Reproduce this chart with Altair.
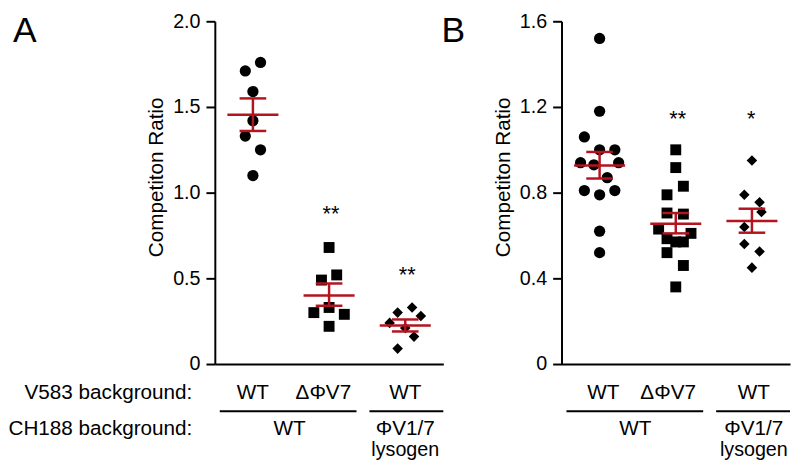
import altair as alt
import pandas as pd

# ---------------- data ----------------
group_pos = [1, 3, 5]          # WT, dPhiV7, PhiV1/7 lysogen

# Panel A
a_wt = [1.76, 1.71, 1.59, 1.42, 1.33, 1.25, 1.10]
a_wt_off = [0.2, -0.2, 0.0, 0.0, -0.2, 0.2, 0.0]
a_dphi = [0.68, 0.52, 0.49, 0.33, 0.30, 0.29, 0.22]
a_dphi_off = [0.0, 0.2, -0.2, 0.0, -0.4, 0.4, 0.0]
a_lys = [0.33, 0.30, 0.28, 0.24, 0.21, 0.16, 0.09]
a_lys_off = [0.18, -0.2, 0.41, -0.41, 0.0, 0.23, -0.2]
a_mean = [1.454, 0.40, 0.225]
a_sem_lo = [1.36, 0.34, 0.19]
a_sem_hi = [1.55, 0.47, 0.26]
a_stars = ["**", "**"]
a_star_pos = [3.05, 5.05]
a_star_y = [0.837, 0.477]
a_ticks = [0, 0.5, 1.0, 1.5, 2.0]

# Panel B
b_wt = [1.52, 1.18, 1.06, 1.00, 1.00, 0.94, 0.93, 0.94, 0.87, 0.81, 0.79, 0.81, 0.62, 0.52]
b_wt_off = [0.0, 0.0, -0.4, 0.0, 0.4, -0.5, -0.15, 0.5, 0.2, -0.4, 0.0, 0.4, 0.0, 0.0]
b_dphi = [1.00, 0.917, 0.83, 0.79, 0.705, 0.70, 0.63, 0.61, 0.585, 0.57, 0.57, 0.52, 0.46, 0.36]
b_dphi_off = [0.0, 0.0, 0.2, -0.23, -0.23, 0.2, -0.45, 0.4, -0.23, 0.0, 0.2, -0.23, 0.2, 0.0]
b_lys = [0.95, 0.79, 0.755, 0.71, 0.64, 0.56, 0.525, 0.45]
b_lys_off = [0.0, -0.2, 0.2, 0.25, -0.2, -0.2, 0.2, 0.0]
b_mean = [0.927, 0.655, 0.668]
b_sem_lo = [0.866, 0.61, 0.613]
b_sem_hi = [0.99, 0.705, 0.725]
b_stars = ["**", "*"]
b_star_pos = [3.05, 4.98]
b_star_y = [1.109, 1.109]
b_ticks = [0, 0.4, 0.8, 1.2, 1.6]

# category labels under the axes
row1_labels = ["WT", "\u0394\u03a6V7", "WT"]
row2_labels = ["WT", "\u03a6V1/7"]
row3_labels = ["", "lysogen"]
a_row1_pos = [1.0, 2.85, 5.0]
b_row1_pos = [1.1, 2.8, 5.05]
a_row2_pos = [1.96, 5.0]
b_row2_pos = [1.94, 5.05]
bracket_start = [0.13, 4.06]
bracket_end = [3.72, 6.0]
left_labels = ["V583 background:", "CH188 background:"]

# ---------------- styling ----------------
FONT = "Liberation Sans"
RED = "#B3141F"
MEAN_HALF = 0.67
CAP_HALF = 0.35
W, H = 232, 348
LABEL_SIZE = 21


def panel(letter, letter_x, vals, offs, means, lo, hi, stars, star_pos, star_y,
          ymax, ticks, row1_pos, row2_pos, show_left):
    xs = alt.Scale(domain=[0, 6], nice=False, zero=False)
    ys = alt.Scale(domain=[0, ymax], nice=False, zero=True)
    xaxis = alt.Axis(labels=False, ticks=False, grid=False)
    yaxis = alt.Axis(values=ticks, grid=False, title="Competiton Ratio",
                     labelExpr="datum.value == 0 ? '0' : format(datum.value, '.1f')",
                     tickSize=9, labelPadding=6, titlePadding=6, titleY=158)

    def X(f):
        return alt.X(f + ":Q", scale=xs, axis=xaxis, title=None)

    def Y(f):
        return alt.Y(f + ":Q", scale=ys, axis=yaxis)

    rows = []
    kinds = ["circle", "square", "diamond"]
    for g, (vv, oo) in enumerate(zip(vals, offs)):
        for v, o in zip(vv, oo):
            rows.append({"x": group_pos[g] + o, "v": v, "k": kinds[g]})
    pts = pd.DataFrame(rows)

    stats = pd.DataFrame({"p": group_pos, "m": means, "lo": lo, "hi": hi})
    stats["m0"] = stats["p"] - MEAN_HALF
    stats["m1"] = stats["p"] + MEAN_HALF
    stats["c0"] = stats["p"] - CAP_HALF
    stats["c1"] = stats["p"] + CAP_HALF

    points = alt.Chart(pts).mark_point(filled=True, opacity=1, color="black", strokeWidth=0).encode(
        x=X("x"), y=Y("v"),
        shape=alt.Shape("k:N", scale=alt.Scale(domain=kinds, range=kinds), legend=None),
        size=alt.Size("k:N", scale=alt.Scale(domain=kinds, range=[130, 115, 170]), legend=None),
    )
    base = alt.Chart(stats)
    mean_rule = base.mark_rule(color=RED, strokeWidth=2.5).encode(x=X("m0"), x2="m1", y=Y("m"))
    sem_rule = base.mark_rule(color=RED, strokeWidth=2.5).encode(x=X("p"), y=Y("lo"), y2="hi")
    cap_lo = base.mark_rule(color=RED, strokeWidth=2.5).encode(x=X("c0"), x2="c1", y=Y("lo"))
    cap_hi = base.mark_rule(color=RED, strokeWidth=2.5).encode(x=X("c0"), x2="c1", y=Y("hi"))

    star_df = pd.DataFrame({"x": star_pos, "y": star_y, "t": stars})
    star_txt = alt.Chart(star_df).mark_text(font=FONT, fontSize=22, baseline="alphabetic",
                                            color="black").encode(x=X("x"), y=Y("y"), text="t:N")

    r1 = pd.DataFrame({"x": row1_pos, "t": row1_labels})
    r2 = pd.DataFrame({"x": row2_pos, "t": row2_labels})
    r3 = pd.DataFrame({"x": row2_pos, "t": row3_labels})
    br = pd.DataFrame({"x": bracket_start, "x2": bracket_end})

    def txt(df, ypx, align="center", size=LABEL_SIZE):
        return alt.Chart(df).mark_text(font=FONT, fontSize=size, baseline="alphabetic",
                                       align=align, color="black").encode(
            x=X("x"), y=alt.value(ypx), text="t:N")

    row1 = txt(r1, 383)
    row2 = txt(r2, 420)
    row3 = txt(r3, 441, size=20)
    brackets = alt.Chart(br).mark_rule(color="black", strokeWidth=2).encode(
        x=X("x"), x2="x2", y=alt.value(396))

    let_df = pd.DataFrame({"x": [letter_x], "t": [letter]})
    let_txt = alt.Chart(let_df).mark_text(font=FONT, fontSize=36, baseline="top", align="left",
                                          color="black").encode(x=X("x"), y=alt.value(-7), text="t:N")

    layers = [points, mean_rule, sem_rule, cap_lo, cap_hi, star_txt, row1, row2, row3, brackets, let_txt]
    if show_left:
        ll = pd.DataFrame({"x": [-0.59, -0.59], "t": left_labels})
        layers.append(txt(ll.iloc[[0]], 383, align="right"))
        layers.append(txt(ll.iloc[[1]], 420, align="right"))
    return alt.layer(*layers).properties(width=W, height=H)


panel_a = panel("A", -5.3, [a_wt, a_dphi, a_lys], [a_wt_off, a_dphi_off, a_lys_off],
                a_mean, a_sem_lo, a_sem_hi, a_stars, a_star_pos, a_star_y,
                2.0, a_ticks, a_row1_pos, a_row2_pos, True)
panel_b = panel("B", -3.15, [b_wt, b_dphi, b_lys], [b_wt_off, b_dphi_off, b_lys_off],
                b_mean, b_sem_lo, b_sem_hi, b_stars, b_star_pos, b_star_y,
                1.6, b_ticks, b_row1_pos, b_row2_pos, False)

chart = alt.hconcat(panel_a, panel_b, spacing=120, bounds="flush").properties(
    padding={"left": 0, "top": 0, "right": 0, "bottom": 0}
).configure_view(stroke=None).configure_axis(
    labelFont=FONT, titleFont=FONT, labelFontSize=20, titleFontSize=21,
    titleFontWeight="normal", labelColor="black", titleColor="black",
    domainColor="black", tickColor="black", domainWidth=2, tickWidth=2,
)

chart.save("out.html", embed_options={"renderer": "svg", "actions": False})
